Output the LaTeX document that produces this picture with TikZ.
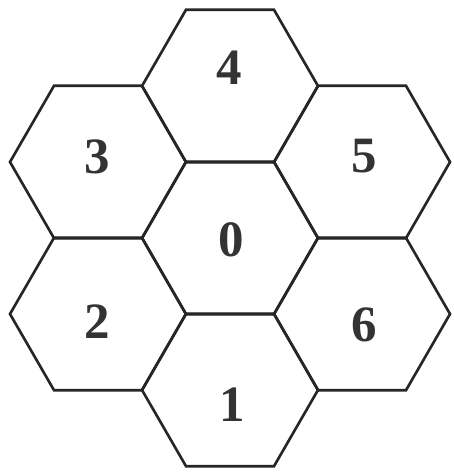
\documentclass[tikz,border=0pt]{standalone}
\usepackage{fontspec}
\setmainfont{Liberation Serif}
\usepackage{tikz}
\usetikzlibrary{shapes.geometric}

\tikzset{
  cell/.style={draw=black!85, line width=1.5pt, regular polygon, regular polygon sides=6,
    minimum size=3.52cm, inner sep=0pt, outer sep=0pt},
  num/.style={font=\fontsize{29}{31}\selectfont\bfseries, text=black!80}
}

\begin{document}
\begin{tikzpicture}
\useasboundingbox (0,0) rectangle (9.06,9.44);

% cells
\node[cell] (c0) at (4.6,4.68) {};
\node[cell] (c1) at (4.6,1.64) {};
\node[cell] (c2) at (1.96,3.16) {};
\node[cell] (c3) at (1.96,6.2) {};
\node[cell] (c4) at (4.6,7.72) {};
\node[cell] (c5) at (7.24,6.2) {};
\node[cell] (c6) at (7.24,3.16) {};

% numbers
\node[num] (n0) at (4.62,4.64) {0};
\node[num] (n1) at (4.64,1.34) {1};
\node[num] (n2) at (1.94,3.0) {2};
\node[num] (n3) at (1.94,6.3) {3};
\node[num] (n4) at (4.58,8.08) {4};
\node[num] (n5) at (7.28,6.32) {5};
\node[num] (n6) at (7.28,2.94) {6};
\end{tikzpicture}
\end{document}
